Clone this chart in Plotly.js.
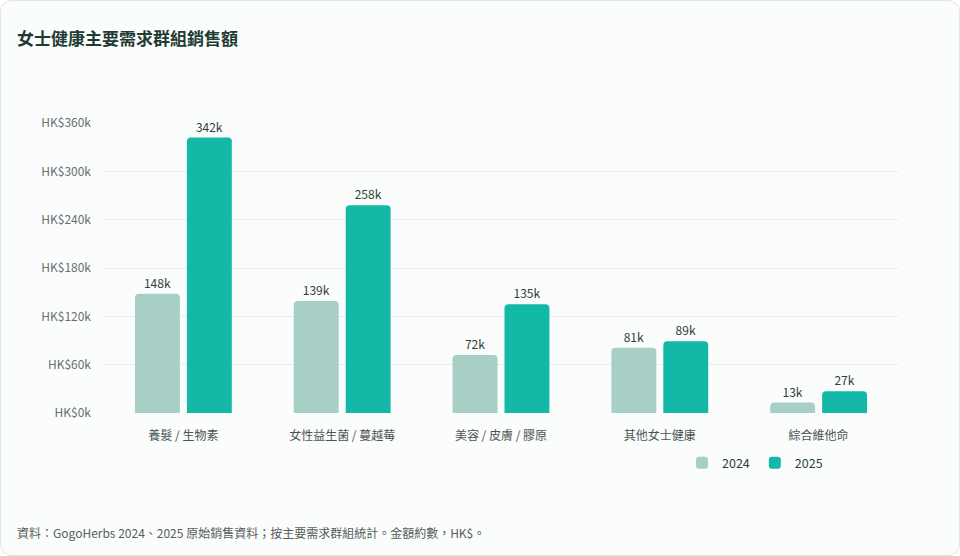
<!DOCTYPE html>
<html>
<head>
<meta charset="utf-8">
<script src="https://cdn.plot.ly/plotly-3.0.1.min.js"></script>
<style>
  html, body { margin: 0; padding: 0; background: #ffffff; }
  #card {
    position: absolute; left: 0; top: 0;
    width: 960px; height: 556px; box-sizing: border-box;
    border: 1px solid #dfe5e3; border-radius: 12px;
    background: #fbfcfc; overflow: hidden;
  }
  #chart { position: absolute; left: -1px; top: 0; width: 960px; height: 556px; }
</style>
</head>
<body>
<div id="card"><div id="chart"></div></div>
<script>
// data
var groups = ['養髮 / 生物素', '女性益生菌 / 蔓越莓', '美容 / 皮膚 / 膠原', '其他女士健康', '綜合維他命'];
var sales2024 = [148, 139, 72, 81, 13];
var sales2025 = [342, 258, 135, 89, 27];
var yTicks = [0, 60, 120, 180, 240, 300, 360];
var yTickText = yTicks.map(function (v) { return 'HK$' + v + 'k'; });

var font = '"Noto Sans CJK TC", "Noto Sans", sans-serif';

var t2024 = {
    x: groups,
    y: sales2024,
    name: '2024',
    type: 'bar',
    marker: { color: '#a8cfc5', cornerradius: 4 },
    text: sales2024.map(function (v) { return v + 'k'; }),
    textposition: 'outside',
    textfont: { size: 12, color: '#2f3f3a', family: font },
    cliponaxis: false,
    hoverinfo: 'x+y'
};

var t2025 = {
    x: groups,
    y: sales2025,
    name: '2025',
    type: 'bar',
    marker: { color: '#14b8a6', cornerradius: 4 },
    text: sales2025.map(function (v) { return v + 'k'; }),
    textposition: 'outside',
    textfont: { size: 12, color: '#2f3f3a', family: font },
    cliponaxis: false,
    hoverinfo: 'x+y'
};

var plotW = 794, plotH = 290;

var layout = {
    width: 960,
    height: 556,
    paper_bgcolor: 'rgba(0,0,0,0)',
    plot_bgcolor: 'rgba(0,0,0,0)',
    font: { family: font, color: '#4a5552' },
    margin: { l: 104, r: 62, t: 122, b: 144 },
    barmode: 'group',
    bargap: 0.346,
    bargroupgap: 0.135,
    showlegend: true,
    legend: {
        orientation: 'h',
        x: (682 - 104) / plotW, xanchor: 'left',
        y: -50 / plotH, yanchor: 'middle',
        font: { size: 12.5, color: '#2f3f3a' },
        itemwidth: 30
    },
    xaxis: {
        showgrid: false,
        zeroline: false,
        showline: false,
        ticks: '',
        ticklabelstandoff: 14,
        tickfont: { size: 12, color: '#4a5552' }
    },
    yaxis: {
        range: [0, 360],
        tickvals: yTicks,
        ticktext: yTickText,
        gridcolor: '#e8eceb',
        gridwidth: 1,
        zeroline: false,
        ticklabelstandoff: 12,
        tickfont: { size: 12, color: '#66706d' }
    },
    annotations: [
        {
            text: '<b>女士健康主要需求群組銷售額</b>',
            xref: 'paper', yref: 'paper',
            x: (15 - 104) / plotW, xanchor: 'left',
            y: 1 + 86 / plotH, yanchor: 'middle',
            showarrow: false,
            font: { size: 17, color: '#1e3b34' }
        },
        {
            text: '資料：GogoHerbs 2024、2025 原始銷售資料；按主要需求群組統計。金額約數，HK$。',
            xref: 'paper', yref: 'paper',
            x: (15 - 104) / plotW, xanchor: 'left',
            y: -119 / plotH, yanchor: 'middle',
            showarrow: false,
            font: { size: 12, color: '#555e5b' }
        }
    ]
};

Plotly.newPlot('chart', [t2024, t2025], layout, { displayModeBar: false, staticPlot: true });
</script>
</body>
</html>
